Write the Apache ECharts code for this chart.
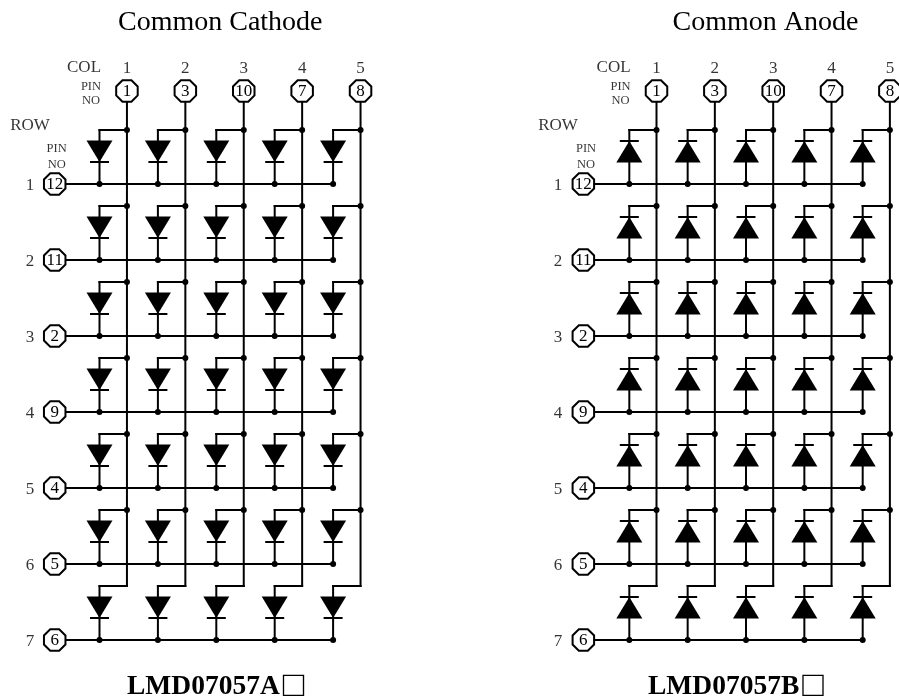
<!DOCTYPE html>
<html><head><meta charset="utf-8">
<style>html,body{margin:0;padding:0;background:#fff}#c{width:899px;height:699px}</style>
<script src="https://cdn.jsdelivr.net/npm/echarts@6/dist/echarts.min.js"></script>
</head><body><div id="c"></div>
<script>
const columns = [1, 2, 3, 4, 5];
const rows = [1, 2, 3, 4, 5, 6, 7];
const colPins = ['1', '3', '10', '7', '8'];
const rowPins = ['12', '11', '2', '9', '4', '5', '6'];
const panelTitles = ['Common Cathode', 'Common Anode'];
const partNames = ['LMD07057A', 'LMD07057B'];

const FONT = '"Liberation Serif","Times New Roman",serif';
const INK = '#000';
const LW = 2;
const OCT = 'path://M7 0L17 0L24 7L24 17L17 24L7 24L0 17L0 7Z';

const panels = [
  {kind: 'cathode', left: 11.9, width: 379.6, max: 6, bus: 0.47, pinX: 0.233, numX: -0.19, pinLabelX: 0.267},
  {kind: 'anode', left: 541.8, width: 355.9, max: 5.6, bus: 0.466, pinX: 0.212, numX: -0.222, pinLabelX: 0.258}
];
const NODE_UP = 54 / 76;
const PIN_Y = -0.224, COLNUM_Y = -0.54;

const series = [], grids = [], xAxes = [], yAxes = [];

panels.forEach((p, i) => {
  grids.push({left: p.left, top: 32, width: p.width, height: 646});
  xAxes.push({type: 'value', gridIndex: i, min: -0.5, max: p.max, show: false});
  yAxes.push({type: 'value', gridIndex: i, min: -1, max: 7.5, inverse: true, show: false});
  const wire = (a, b) => ({type: 'line', shape: {x1: a[0], y1: a[1], x2: b[0], y2: b[1]},
    style: {stroke: INK, lineWidth: LW, lineCap: 'square'}});
  const dot = (a) => ({type: 'circle', shape: {cx: a[0], cy: a[1], r: 3}, style: {fill: INK}});

  series.push({type: 'custom', xAxisIndex: i, yAxisIndex: i, silent: true, clip: false, z: 2,
    data: columns.map(c => [c]),
    renderItem(params, api) {
      const c = api.value(0);
      return wire(api.coord([c + p.bus, PIN_Y]), api.coord([c + p.bus, rows[rows.length - 1] - NODE_UP]));
    }});
  series.push({type: 'custom', xAxisIndex: i, yAxisIndex: i, silent: true, clip: false, z: 2,
    data: rows.map(r => [r]),
    renderItem(params, api) {
      const r = api.value(0);
      return wire(api.coord([p.pinX, r]), api.coord([columns[columns.length - 1], r]));
    }});
  const cells = [];
  rows.forEach(r => columns.forEach(c => cells.push([c, r])));
  series.push({type: 'custom', xAxisIndex: i, yAxisIndex: i, silent: true, clip: false, z: 3,
    data: cells,
    renderItem(params, api) {
      const c = api.value(0), r = api.value(1);
      const d = api.coord([c, r]);
      const top = api.coord([c, r - NODE_UP]);
      const bus = api.coord([c + p.bus, r - NODE_UP]);
      const kids = [wire(bus, top), wire(top, d), dot(d)];
      if (r !== rows[rows.length - 1]) kids.push(dot(bus));
      const up = p.kind === 'anode';
      const yBase = up ? top[1] + 32.5 : top[1] + 10.5;
      const yApex = up ? top[1] + 11 : top[1] + 32;
      const yBar = up ? top[1] + 11 : top[1] + 32;
      kids.push({type: 'polygon', shape: {points: [[d[0] - 13, yBase], [d[0] + 13, yBase], [d[0], yApex]]},
        style: {fill: INK}});
      kids.push(wire([d[0] - 8.5, yBar], [d[0] + 8.5, yBar]));
      return {type: 'group', children: kids};
    }});
  const pinSeries = (data) => ({type: 'scatter', xAxisIndex: i, yAxisIndex: i, silent: true, z: 5,
    symbol: OCT, symbolSize: 21.5,
    itemStyle: {color: '#fff', borderColor: INK, borderWidth: LW, opacity: 1},
    label: {show: true, position: 'inside', offset: [0, 1], formatter: q => q.data[2], color: INK, fontFamily: FONT, fontSize: 17},
    data});
  series.push(pinSeries(columns.map((c, k) => [c + p.bus, PIN_Y, colPins[k]])));
  series.push(pinSeries(rows.map((r, k) => [p.pinX, r, rowPins[k]])));
  const txt = (data, size) => ({type: 'scatter', xAxisIndex: i, yAxisIndex: i, silent: true, z: 6,
    symbolSize: 1, itemStyle: {color: 'rgba(0,0,0,0)'},
    label: {show: true, position: 'inside', offset: [0, 1.5], formatter: q => q.data[2], color: INK, fontFamily: FONT, fontSize: size,
      lineHeight: size},
    data});
  series.push(txt(columns.map(c => [c + p.bus, COLNUM_Y, String(c)]), 17));
  series.push(txt(rows.map(r => [p.numX, r, String(r)]), 17));
  series.push(txt([[1 + p.bus - 0.735, -0.553, 'COL']], 17));
  series.push(txt([[1 + p.bus - 0.616, -0.303, 'PIN'], [1 + p.bus - 0.616, -0.118, 'NO']], 12.5));
  series.push(txt([[p.numX, 0.21, 'ROW']], 17));
  series.push(txt([[p.pinLabelX, 0.513, 'PIN'], [p.pinLabelX, 0.724, 'NO']], 12.5));
});

const partStyle = {
  rich: {
    a: {fontFamily: FONT, fontSize: 27.5, fontWeight: 'bold', color: INK},
    b: {fontFamily: FONT + ',"Noto Sans CJK SC"', fontSize: 36, fontWeight: 'bold', color: INK, padding: [0, 0, 0, 3]}
  }
};
const titles = [
  {text: panelTitles[0], left: 113, top: 4, textStyle: {fontFamily: FONT, fontSize: 28, fontWeight: 'normal', color: INK}},
  {text: panelTitles[1], left: 667.5, top: 4, textStyle: {fontFamily: FONT, fontSize: 28, fontWeight: 'normal', color: INK}},
  {text: '{a|' + partNames[0] + '}{b|□}', left: 122, top: 664, textStyle: partStyle},
  {text: '{a|' + partNames[1] + '}{b|□}', left: 643, top: 664, textStyle: partStyle}
];

const chart = echarts.init(document.getElementById('c'), null, {renderer: 'canvas'});
chart.setOption({animation: false, backgroundColor: '#fff', title: titles, tooltip: {show: false},
  grid: grids, xAxis: xAxes, yAxis: yAxes, series});
</script></body></html>
